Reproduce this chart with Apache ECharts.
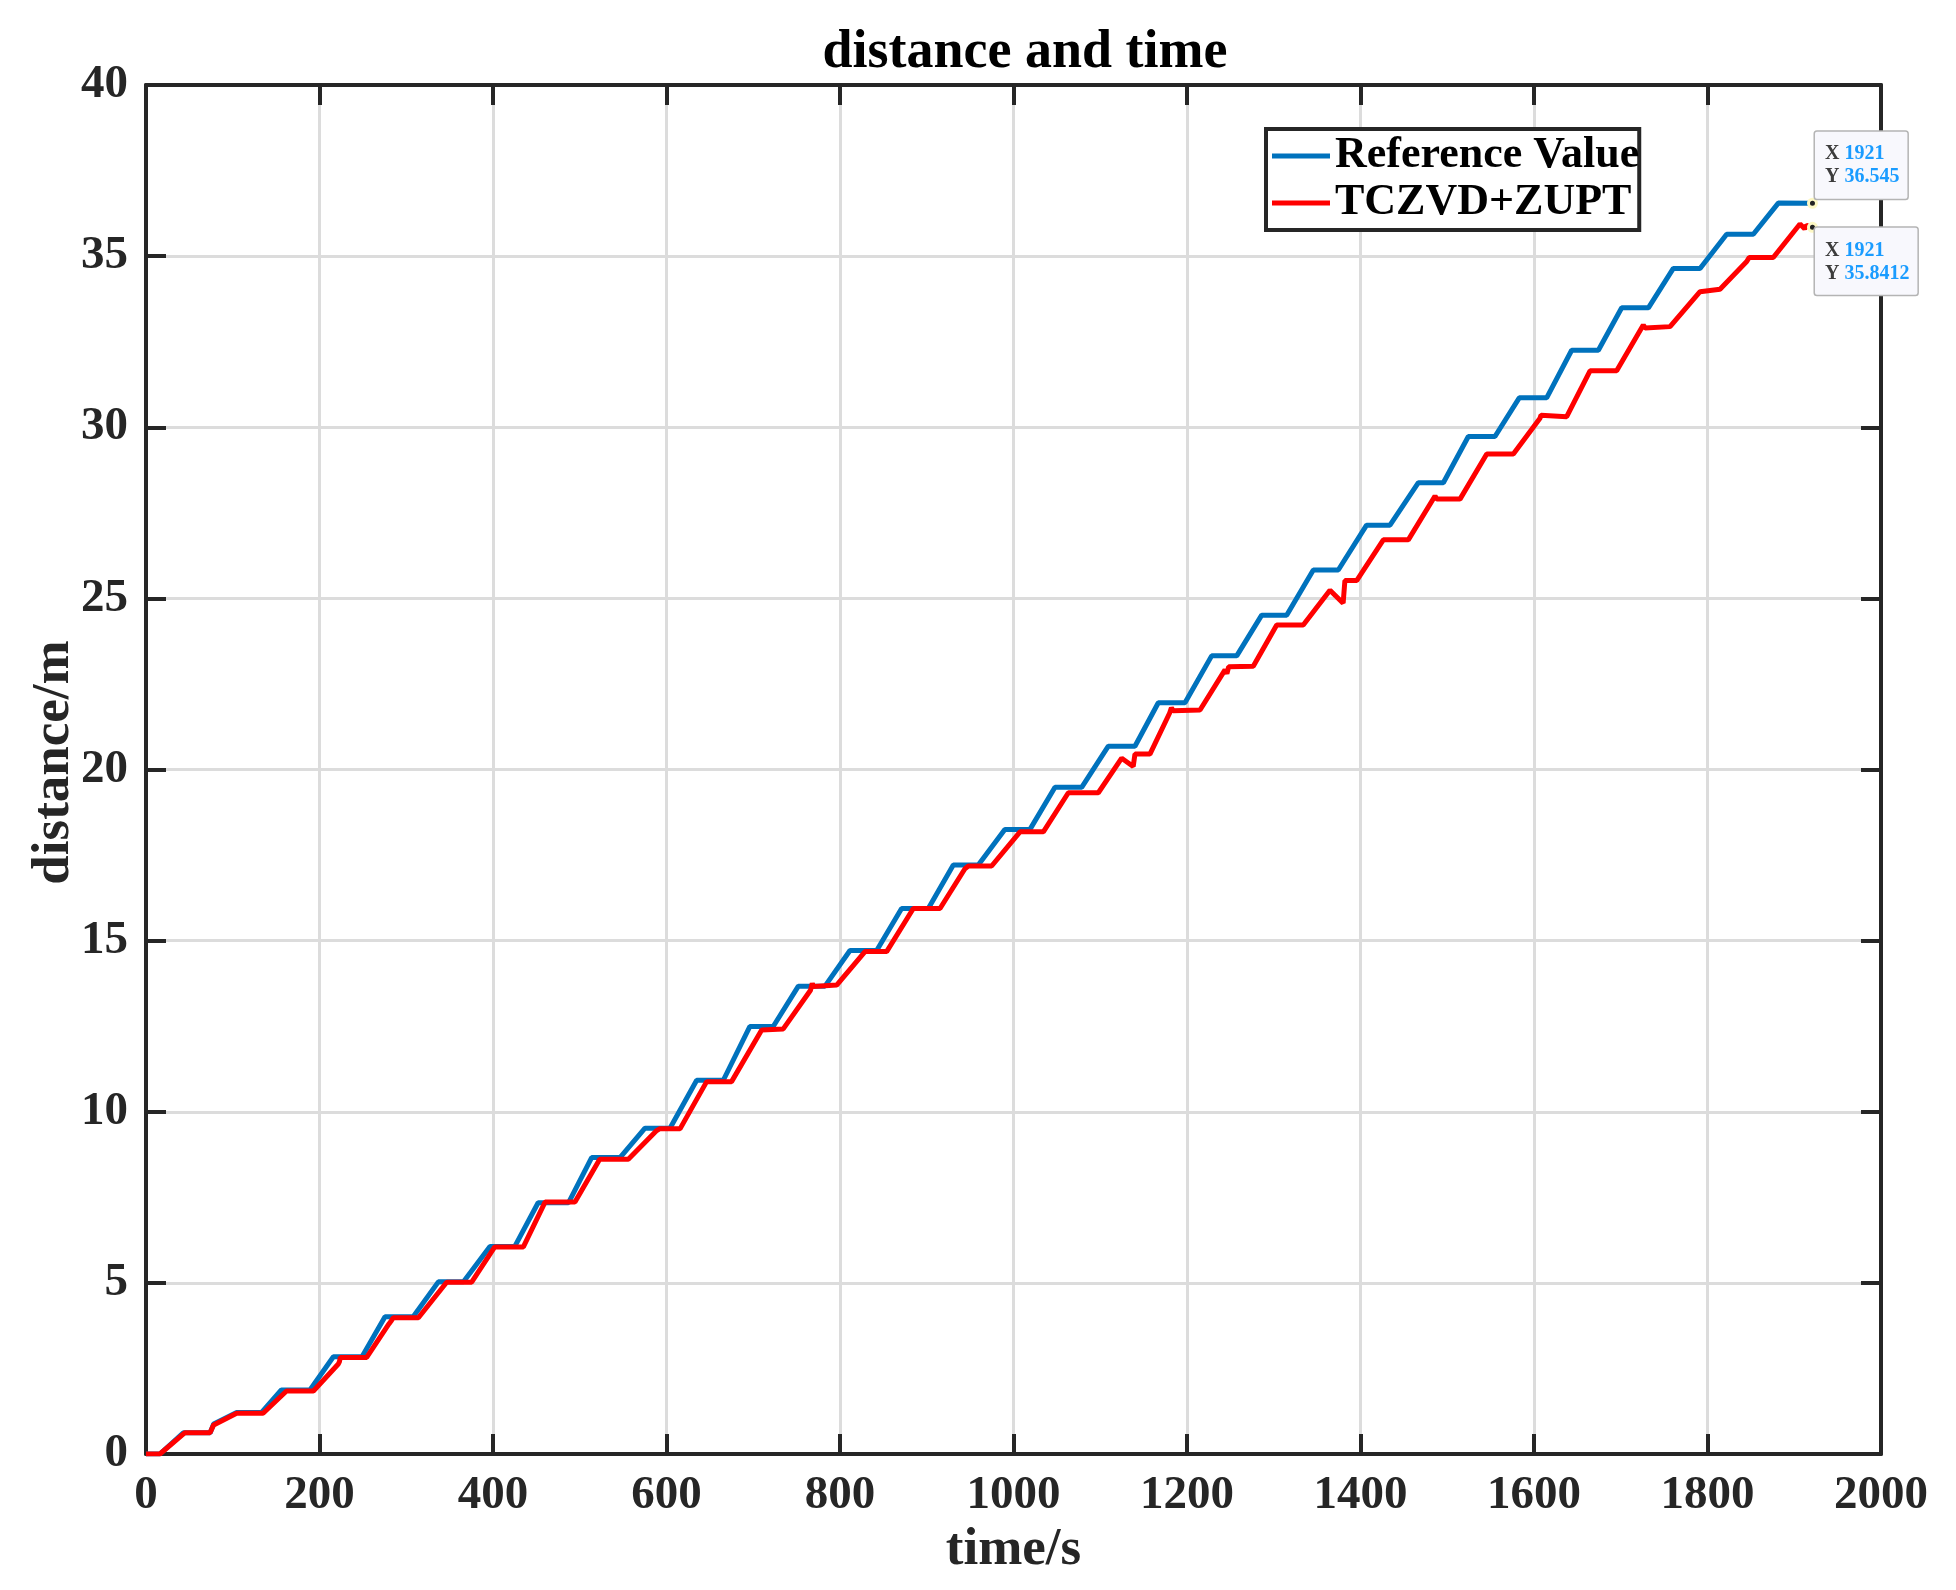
<!DOCTYPE html>
<html>
<head>
<meta charset="utf-8">
<script src="https://cdn.jsdelivr.net/npm/echarts@6/dist/echarts.min.js"></script>
<style>
html,body{margin:0;padding:0;background:#fff;}
#chart{width:1956px;height:1590px;}
</style>
</head>
<body>
<div id="chart"></div>
<script>
// ---- data (time in s, distance in m) ----
const seriesNames = ['Reference Value', 'TCZVD+ZUPT'];
const referenceValue = [
[0,0],[16,0],[43,0.62],[74,0.62],[78,0.88],[104.5,1.21],[133,1.21],[156,1.87],[189,1.87],[216,2.84],[249,2.84],
[275.5,4.01],[308,4.01],[337,5.03],[366,5.03],[396.5,6.06],[425,6.06],[452,7.34],[487,7.34],[513.7,8.66],[546.4,8.66],
[575.2,9.52],[604,9.52],[634.8,10.92],[665.5,10.92],[696,12.49],[723,12.49],[752,13.67],[782.7,13.67],[811.5,14.71],
[842.3,14.71],[871,15.94],[901.8,15.94],[930.6,17.21],[959.4,17.21],[990,18.25],[1019,18.25],[1047.8,19.48],[1078.6,19.48],
[1109.3,20.68],[1140,20.68],[1166.9,21.95],[1197.7,21.95],[1228.4,23.32],[1257.3,23.32],[1286.1,24.51],[1314.9,24.51],
[1345.6,25.83],[1374.4,25.83],[1407,27.14],[1434,27.14],[1466.7,28.38],[1495.5,28.38],[1524.3,29.73],[1555,29.73],
[1583,30.86],[1614.6,30.86],[1643.4,32.25],[1674.2,32.25],[1701.1,33.49],[1731.9,33.49],[1760.6,34.64],[1791.4,34.64],
[1822.1,35.64],[1852.8,35.64],[1881.6,36.55],[1921,36.545]
];
const tczvdZupt = [
[0,0],[16,0],[44.6,0.62],[73.8,0.62],[78,0.85],[104.5,1.19],[135,1.19],[162,1.84],[193,1.84],[221.7,2.63],[223,2.7],
[224,2.82],[254.4,2.82],[280,3.8],[283,3.9],[284,3.85],[285,3.98],[314,3.98],[346.6,5.02],[375.4,5.02],[402,6.05],
[435,6.05],[460,7.36],[494.5,7.36],[523,8.61],[556,8.61],[588.7,9.45],[590,9.42],[592,9.5],[615.6,9.5],[646.3,10.88],
[675,10.88],[709.7,12.39],[734.6,12.42],[766,13.55],[768,13.75],[769.2,13.66],[796.2,13.7],[828.8,14.68],[853.8,14.68],
[884.5,15.94],[915.3,15.94],[944,17.1],[946,17.05],[948,17.18],[974.8,17.18],[1007.5,18.18],[1034.4,18.18],[1063.2,19.32],
[1097.8,19.32],[1124.7,20.33],[1138,20.09],[1140,20.45],[1157.3,20.45],[1180,21.65],[1182,21.8],[1184,21.72],[1215,21.74],
[1243.8,22.91],[1246,22.8],[1248,23.0],[1276.4,23.02],[1303.4,24.22],[1334,24.22],[1364.8,25.24],[1380,24.86],[1382,25.52],
[1395.6,25.52],[1426.3,26.71],[1455.1,26.71],[1485.9,27.99],[1488,27.9],[1514.7,27.9],[1545.5,29.22],[1576.2,29.22],
[1606.9,30.26],[1608,30.35],[1637.7,30.31],[1664.6,31.65],[1695.3,31.65],[1726,32.99],[1728,32.9],[1730,32.95],
[1756.8,32.94],[1791.4,33.96],[1814.4,34.03],[1845.2,34.84],[1848,34.96],[1875.8,34.96],[1906.6,35.94],[1912,35.8],
[1914,35.9],[1921,35.8412]
];
const tipX = ['1921', '1921'];
const tipY = ['36.545', '35.8412'];
const xTicks = {min: 0, max: 2000, interval: 200};
const yTicks = {min: 0, max: 40, interval: 5};

// ---- styling ----
const FONT = 'Liberation Serif';
const AX = '#262626';
const COLORS = ['#0072BD', '#FF0000'];
const chart = echarts.init(document.getElementById('chart'));

const baseAxis = (pos, showLabel) => ({
  position: pos,
  axisLine: {show: true, onZero: false, lineStyle: {color: AX, width: 4}},
  axisTick: {show: true, inside: true, length: 20, lineStyle: {color: AX, width: 4}},
  axisLabel: {show: showLabel, fontFamily: FONT, fontWeight: 'bold', fontSize: 47, color: AX, margin: 18,
              formatter: v => String(v)},
  splitLine: {show: false}
});

function tipLabel(i, pos) {
  return {
    show: true,
    position: pos,
    formatter: '{k|X} {v|' + tipX[i] + '}\n{k|Y} {v|' + tipY[i] + '}',
    backgroundColor: '#f8f8fd',
    borderColor: '#b4b4b4',
    borderWidth: 1.5,
    borderRadius: 2,
    padding: [11, 8, 10, 10],
    fontFamily: FONT,
    fontWeight: 'bold',
    fontSize: 20,
    lineHeight: 23,
    rich: {
      k: {color: '#3c3c3c', fontFamily: FONT, fontWeight: 'bold', fontSize: 20, lineHeight: 23},
      v: {color: '#1a9cff', fontFamily: FONT, fontWeight: 'bold', fontSize: 20, lineHeight: 23}
    }
  };
}

const series = [referenceValue, tczvdZupt].map((d, i) => ({
  name: seriesNames[i],
  type: 'line',
  data: d,
  showSymbol: false,
  symbol: 'none',
  lineStyle: {width: 5, color: COLORS[i]},
  itemStyle: {color: COLORS[i]},
  xAxisIndex: 0, yAxisIndex: 0,
  z: 3,
  markPoint: {
    symbol: 'circle',
    symbolSize: 8,
    itemStyle: {color: '#222', borderColor: '#fdf8c4', borderWidth: 3},
    label: tipLabel(i, i === 0 ? [8, -66] : [8, 6]),
    data: [{coord: d[d.length - 1]}],
    z: 10
  }
}));

chart.setOption({
  animation: false,
  backgroundColor: '#fff',
  title: {
    text: 'distance and time',
    left: 1020, top: 21, textAlign: 'center',
    textStyle: {fontFamily: FONT, fontWeight: 'bold', fontSize: 54, color: '#000'}
  },
  legend: {
    orient: 'vertical',
    left: 1266, top: 129,
    padding: [4, 0, 4, 6],
    itemGap: 1,
    itemWidth: 58,
    itemHeight: 5,
    icon: 'rect',
    borderColor: AX, borderWidth: 4, backgroundColor: '#fff',
    textStyle: {fontFamily: FONT, fontWeight: 'bold', fontSize: 44, color: '#000', lineHeight: 46},
    data: seriesNames.map((n, i) => ({name: n, itemStyle: {color: COLORS[i]}}))
  },
  grid: {left: 146, right: 75, top: 85, bottom: 136, containLabel: false},
  xAxis: [
    Object.assign(baseAxis('bottom', true), {
      type: 'value', min: xTicks.min, max: xTicks.max, interval: xTicks.interval,
      name: 'time/s', nameLocation: 'middle', nameGap: 64,
      nameTextStyle: {fontFamily: FONT, fontWeight: 'bold', fontSize: 53, color: AX},
      splitLine: {show: true, lineStyle: {color: '#dcdcdc', width: 3}}
    }),
    Object.assign(baseAxis('top', false), {
      type: 'value', min: xTicks.min, max: xTicks.max, interval: xTicks.interval
    })
  ],
  yAxis: [
    Object.assign(baseAxis('left', true), {
      type: 'value', min: yTicks.min, max: yTicks.max, interval: yTicks.interval,
      name: 'distance/m', nameLocation: 'middle', nameGap: 65, nameMoveOverlap: false,
      nameTextStyle: {fontFamily: FONT, fontWeight: 'bold', fontSize: 53, color: AX, padding: [0, 0, 0, 14]},
      splitLine: {show: true, lineStyle: {color: '#dcdcdc', width: 3}}
    }),
    Object.assign(baseAxis('right', false), {
      type: 'value', min: yTicks.min, max: yTicks.max, interval: yTicks.interval
    })
  ],
  series: series
});
</script>
</body>
</html>
